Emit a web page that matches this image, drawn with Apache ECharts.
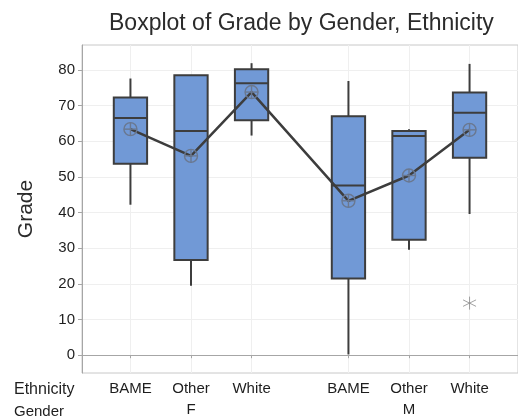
<!DOCTYPE html>
<html>
<head>
<meta charset="utf-8">
<script src="https://cdn.jsdelivr.net/npm/echarts@6/dist/echarts.min.js"></script>
<style>
  html, body { margin: 0; padding: 0; background: #fff; }
  #chart { width: 518px; height: 420px; }
</style>
</head>
<body>
<div id="chart"></div>
<script>
// groups on the x axis (Gender F then M, small gap between)
var ethnicity = ["BAME", "Other", "White", "BAME", "Other", "White"];
var gender = ["", "F", "", "", "M", ""];
var xPos = [1, 2, 3, 4.6, 5.6, 6.6];

// [min, q1, median, q3, max]
var boxStats = [
  [42.2, 53.7, 66.5, 72.3, 77.6],
  [19.5, 26.7, 62.9, 78.5, 78.5],
  [61.6, 65.9, 76.3, 80.2, 81.9],
  [0.2, 21.5, 47.6, 67.0, 76.9],
  [29.6, 32.4, 61.5, 62.9, 63.4],
  [39.6, 55.4, 68.0, 73.7, 81.7]
];
var means = [63.4, 55.9, 73.8, 43.3, 50.4, 63.2];
var outliers = [[6.6, 14.6]];
var yTicks = [0, 10, 20, 30, 40, 50, 60, 70, 80];

var chart = echarts.init(document.getElementById("chart"));

var boxData = xPos.map(function (x, i) {
  return [x].concat(boxStats[i]);
});
var meanData = xPos.map(function (x, i) {
  return [x, means[i]];
});

function renderBox(params, api) {
  var x = api.value(0);
  var half = api.size([0.55, 0])[0] / 2;
  var pMin = api.coord([x, api.value(1)]);
  var pQ1 = api.coord([x, api.value(2)]);
  var pMed = api.coord([x, api.value(3)]);
  var pQ3 = api.coord([x, api.value(4)]);
  var pMax = api.coord([x, api.value(5)]);
  var stroke = { stroke: "#3d3d3d", lineWidth: 2 };
  return {
    type: "group",
    children: [
      { type: "line", shape: { x1: pMax[0], y1: pMax[1], x2: pQ3[0], y2: pQ3[1] }, style: stroke },
      { type: "line", shape: { x1: pQ1[0], y1: pQ1[1], x2: pMin[0], y2: pMin[1] }, style: stroke },
      {
        type: "rect",
        shape: { x: pQ3[0] - half, y: pQ3[1], width: half * 2, height: pQ1[1] - pQ3[1] },
        style: { fill: "#7199d6", stroke: "#3d3d3d", lineWidth: 2 }
      },
      { type: "line", shape: { x1: pMed[0] - half, y1: pMed[1], x2: pMed[0] + half, y2: pMed[1] }, style: stroke }
    ]
  };
}

function renderMean(params, api) {
  var p = api.coord([api.value(0), api.value(1)]);
  var r = 6.5;
  var st = { stroke: "#6a7890", lineWidth: 1.4, fill: null };
  return {
    type: "group",
    children: [
      { type: "circle", shape: { cx: p[0], cy: p[1], r: r }, style: st },
      { type: "line", shape: { x1: p[0] - r, y1: p[1], x2: p[0] + r, y2: p[1] }, style: st },
      { type: "line", shape: { x1: p[0], y1: p[1] - r, x2: p[0], y2: p[1] + r }, style: st }
    ]
  };
}

chart.setOption({
  animation: false,
  textStyle: { fontFamily: "Liberation Sans, Arial, sans-serif" },
  title: {
    text: "Boxplot of Grade by Gender, Ethnicity",
    left: 104,
    top: 7,
    textStyle: { fontSize: 23, fontWeight: "normal", color: "#2b2b2b" }
  },
  grid: {
    left: 82, top: 45, right: -4, bottom: 44,
    show: true, borderColor: "#c8c8c8", borderWidth: 1
  },
  xAxis: {
    type: "value",
    min: 0.2,
    max: 7.4,
    axisLine: { show: true, lineStyle: { color: "#a6a6a6" } },
    axisTick: { show: true, customValues: xPos, length: 3, lineStyle: { color: "#a6a6a6" } },
    splitLine: { show: true, lineStyle: { color: "#efefef" } },
    axisLabel: {
      customValues: xPos,
      color: "#1e1e1e",
      fontSize: 15,
      lineHeight: 21,
      margin: 5,
      formatter: function (v) {
        var i = xPos.indexOf(v);
        return ethnicity[i] + "\n" + (gender[i] || " ");
      }
    }
  },
  yAxis: {
    type: "value",
    min: -5,
    max: 87,
    name: "Grade",
    nameLocation: "middle",
    nameGap: 45,
    nameTextStyle: { fontSize: 21, color: "#2b2b2b" },
    axisLine: { show: true, lineStyle: { color: "#a6a6a6" } },
    axisTick: { show: true, customValues: yTicks, length: 4, lineStyle: { color: "#a6a6a6" } },
    splitLine: { show: true, lineStyle: { color: "#efefef" } },
    axisLabel: { customValues: yTicks, color: "#1e1e1e", fontSize: 15, margin: 7 }
  },
  graphic: [
    { type: "text", left: 14, top: 382, style: { text: "Ethnicity", fontSize: 16, fill: "#1e1e1e", fontFamily: "Liberation Sans, Arial, sans-serif" } },
    { type: "text", left: 14, top: 404, style: { text: "Gender", fontSize: 15, fill: "#1e1e1e", fontFamily: "Liberation Sans, Arial, sans-serif" } }
  ],
  series: [
    { type: "custom", renderItem: renderBox, data: boxData, z: 2 },
    {
      type: "line",
      data: meanData,
      symbol: "none",
      lineStyle: { color: "#3d3d3d", width: 2.5 },
      z: 3
    },
    { type: "custom", renderItem: renderMean, data: meanData, z: 4 },
    {
      type: "scatter",
      data: outliers,
      symbol: "path://M0,-10L0,10M-8.66,-5L8.66,5M-8.66,5L8.66,-5",
      symbolSize: 13,
      itemStyle: { color: "none", borderColor: "#8a8a8a", borderWidth: 1 },
      z: 4
    }
  ]
});
</script>
</body>
</html>
